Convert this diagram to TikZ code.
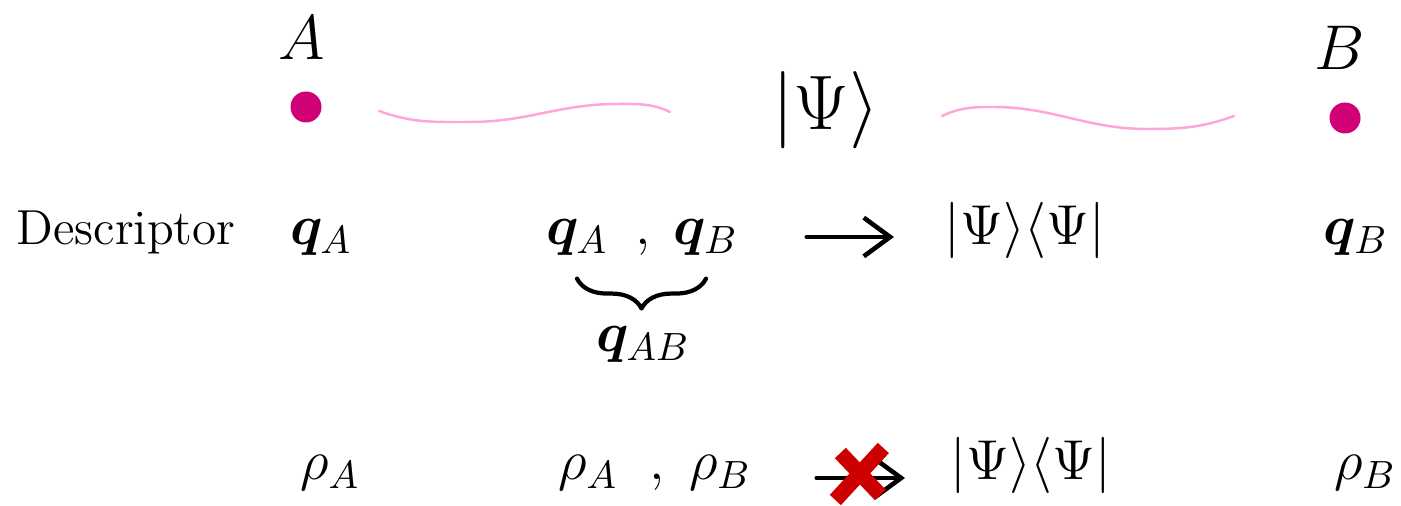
\RequirePackage{fix-cm}
\documentclass[tikz,border=0pt]{standalone}
\usepackage{amsmath,amssymb,bm}
\usetikzlibrary{arrows.meta,calc,decorations.pathreplacing,positioning}
\definecolor{fg}{RGB}{0,0,0}
\definecolor{mag}{RGB}{208,0,118}
\definecolor{wavepink}{RGB}{255,165,215}
\definecolor{crossred}{RGB}{204,0,0}
\newcommand{\vq}{\bm{q}}
\newcommand{\ketbra}{|\Psi\rangle\langle\Psi|}
\tikzset{
  every picture/.style={fg, line cap=round, line join=round},
  every node/.style={inner sep=0pt, anchor=base, font=\fontsize{16}{19}\selectfont},
  % Beschriftungen
  party/.style={font=\fontsize{18}{21}\selectfont},
  ket/.style={font=\fontsize{22}{26}\selectfont},
  word/.style={font=\fontsize{14}{17}\selectfont},
  % Linien
  entangle/.style={wavepink, line width=0.7pt},
  arr/.style={line width=1.3pt, -{Straight Barb[length=7.5pt,width=11pt]}},
  brc/.style={line width=1.2pt, decorate, decoration={brace, mirror, amplitude=8.5pt}},
  nogo/.style={crossred, line width=4.3pt, line cap=butt},
  % Teilchen
  particle/.style={circle, fill=mag, minimum size=0.31cm, anchor=center},
}
\begin{document}
\begin{tikzpicture}
  \useasboundingbox (0,0) rectangle (14.01,5.06);
  % ---------- Teilchen und Zustand ----------
  \node[party] (A) at (3.02,4.46) {$A$};
  \node[particle] (dotA) at (3.06,3.99) {};
  \node[party] (B) at (13.40,4.36) {$B$};
  \node[particle] (dotB) at (13.45,3.88) {};
  \node[ket] (psi) at (8.26,3.76) {$|\Psi\rangle$};
  \draw[entangle] (3.79,3.95) to[out=-20, in=180] (4.70,3.84) to[out=0, in=180] (6.17,4.02) to[out=0, in=155] (6.70,3.94);
  \draw[entangle] (9.42,3.90) to[out=25, in=180] (9.93,3.99) to[out=0, in=180] (11.47,3.77) to[out=0, in=-160] (12.34,3.90);
  % ---------- Deskriptoren ----------
  \node[word] (desc) at (1.26,2.61) {Descriptor};
  \node (qA) at (3.21,2.61) {$\vq_A$};
  \node (qA2) at (5.77,2.61) {$\vq_A$};
  \node (c2) at (6.43,2.61) {$,$};
  \node (qB2) at (7.06,2.61) {$\vq_B$};
  \node (psi2) at (10.25,2.61) {$\ketbra$};
  \node (qB) at (13.56,2.61) {$\vq_B$};
  \draw[arr] ([xshift=6.8mm, yshift=0.8mm]qB2.base east) -- ([xshift=-5mm, yshift=0.8mm]psi2.base west);
  \draw[brc] ([yshift=-2.2mm]qA2.south) -- ([yshift=-2.2mm]qB2.south);
  \node (qAB) at (6.43,1.54) {$\vq_{AB}$};
  % ---------- Dichtematrizen ----------
  \node (rhoA) at (3.30,0.26) {$\rho_A$};
  \node (rhoA2) at (5.88,0.26) {$\rho_A$};
  \node (c3) at (6.57,0.26) {$,$};
  \node (rhoB2) at (7.20,0.26) {$\rho_B$};
  \node (psi3) at (10.31,0.26) {$\ketbra$};
  \node (rhoB) at (13.65,0.26) {$\rho_B$};
  \draw[arr] ([xshift=6.5mm, yshift=0.2mm]rhoB2.base east) -- coordinate (cut) ([xshift=-4.5mm, yshift=0.2mm]psi3.base west);
  \draw[nogo] ($(cut)+(-0.205,0.25)$) -- ($(cut)+(0.195,-0.17)$);
  \draw[nogo] ($(cut)+(0.225,0.30)$) -- ($(cut)+(-0.255,-0.22)$);
\end{tikzpicture}
\end{document}
